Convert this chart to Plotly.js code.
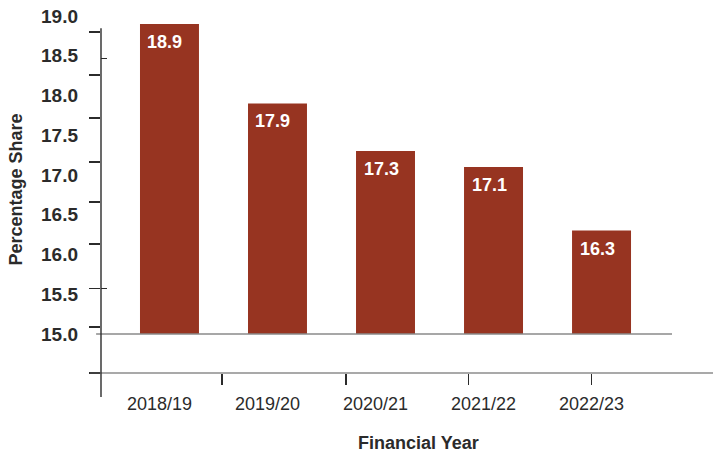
<!DOCTYPE html>
<html>
<head>
<meta charset="utf-8">
<script src="https://cdn.plot.ly/plotly-3.0.1.min.js"></script>
<style>html,body{margin:0;padding:0;background:#fff;}#chart{width:713px;height:452px;}</style>
</head>
<body>
<div id="chart"></div>
<script>
const categories = ["2018/19", "2019/20", "2020/21", "2021/22", "2022/23"];
const shares = [18.9, 17.9, 17.3, 17.1, 16.3];
const labels = ["18.9", "17.9", "17.3", "17.1", "16.3"];
const yTickValues = [15.0, 15.5, 16.0, 16.5, 17.0, 17.5, 18.0, 18.5, 19.0];
const yTickText = ["15.0", "15.5", "16.0", "16.5", "17.0", "17.5", "18.0", "18.5", "19.0"];
const baseValue = 15.0;

const BAR = "#973421";
const INK = "#2b2b2b";
const FONT = "Liberation Sans, Arial, sans-serif";
const xRange = [-0.634, 5.032];
const yRange = [14.509, 19.075];

const trace = {
  type: "bar",
  x: categories,
  y: shares.map(v => v - baseValue),
  base: baseValue,
  marker: { color: BAR, line: { width: 0 } },
  width: 0.546,
  hoverinfo: "skip",
  showlegend: false
};

const annotations = categories.map((c, i) => ({
  x: c, y: shares[i], xref: "x", yref: "y",
  text: labels[i], showarrow: false,
  xanchor: "left", yanchor: "top", xshift: -24, yshift: -6,
  font: { family: FONT, size: 18, color: "#ffffff", weight: "bold" }
}));
annotations.push({
  xref: "paper", yref: "paper", x: -0.139, y: 0.505,
  text: "Percentage Share", textangle: -90, showarrow: false,
  xanchor: "center", yanchor: "middle",
  font: { family: FONT, size: 18, color: INK, weight: "bold" }
});
annotations.push({
  xref: "paper", yref: "paper", x: 0.518, y: -0.193,
  text: "Financial Year", showarrow: false,
  xanchor: "center", yanchor: "middle",
  font: { family: FONT, size: 18, color: INK, weight: "bold" }
});

const layout = {
  width: 713, height: 452,
  margin: { l: 101, r: 0, t: 10, b: 79 },
  paper_bgcolor: "#ffffff", plot_bgcolor: "#ffffff",
  font: { family: FONT, color: INK },
  xaxis: {
    type: "category", range: xRange, showgrid: false, zeroline: false,
    showline: false, ticks: "", ticklabelshift: -10, ticklabelstandoff: 18,
    tickfont: { family: FONT, size: 18, color: INK }
  },
  xaxis2: {
    overlaying: "x", anchor: "y", side: "bottom", type: "linear", range: xRange,
    showgrid: false, zeroline: false, showline: false,
    tickmode: "array", tickvals: [0.485, 1.634, 2.77, 3.91],
    ticks: "outside", ticklen: 11, tickwidth: 1.3, tickcolor: INK, showticklabels: false
  },
  yaxis: {
    range: yRange, showgrid: false, zeroline: false, showline: false,
    tickmode: "array", tickvals: yTickValues, ticktext: yTickText, ticks: "",
    ticklabelstandoff: 22,
    tickfont: { family: FONT, size: 19, color: INK, weight: "bold" }
  },
  yaxis2: {
    overlaying: "y", anchor: "x", side: "left", range: yRange,
    showgrid: false, zeroline: false, showline: false, showticklabels: false,
    tickmode: "array", tickvals: [18.80, 18.26, 17.72, 17.16, 16.66, 16.13, 15.57, 15.09, 14.51],
    ticks: "outside", ticklen: 11, tickwidth: 1.6, tickcolor: INK
  },
  yaxis3: {
    overlaying: "y", anchor: "x", side: "left", range: yRange,
    showgrid: false, zeroline: false, showline: false, showticklabels: false,
    tickmode: "array", tickvals: [18.46, 15.57],
    ticks: "inside", ticklen: 6, tickwidth: 1.2, tickcolor: INK
  },
  shapes: [
    { type: "line", xref: "paper", yref: "y", x0: -0.008, x1: 0.933, y0: baseValue, y1: baseValue,
      line: { color: "#8a8a8a", width: 1.5 } },
    { type: "line", xref: "paper", yref: "paper", x0: -0.018, x1: 1, y0: 0, y1: 0,
      line: { color: "#555", width: 1.2 } },
    { type: "line", xref: "paper", yref: "paper", x0: 0, x1: 0, y0: -0.066, y1: 0.950,
      line: { color: INK, width: 1.4 } }
  ],
  annotations: annotations,
  bargap: 0.45
};

const ghost2 = { type: "scatter", x: [], y: [], xaxis: "x2", yaxis: "y2", showlegend: false, hoverinfo: "skip" };
const ghost3 = { type: "scatter", x: [], y: [], xaxis: "x", yaxis: "y3", showlegend: false, hoverinfo: "skip" };

Plotly.newPlot("chart", [trace, ghost2, ghost3], layout, { staticPlot: true, displayModeBar: false });
</script>
</body>
</html>
